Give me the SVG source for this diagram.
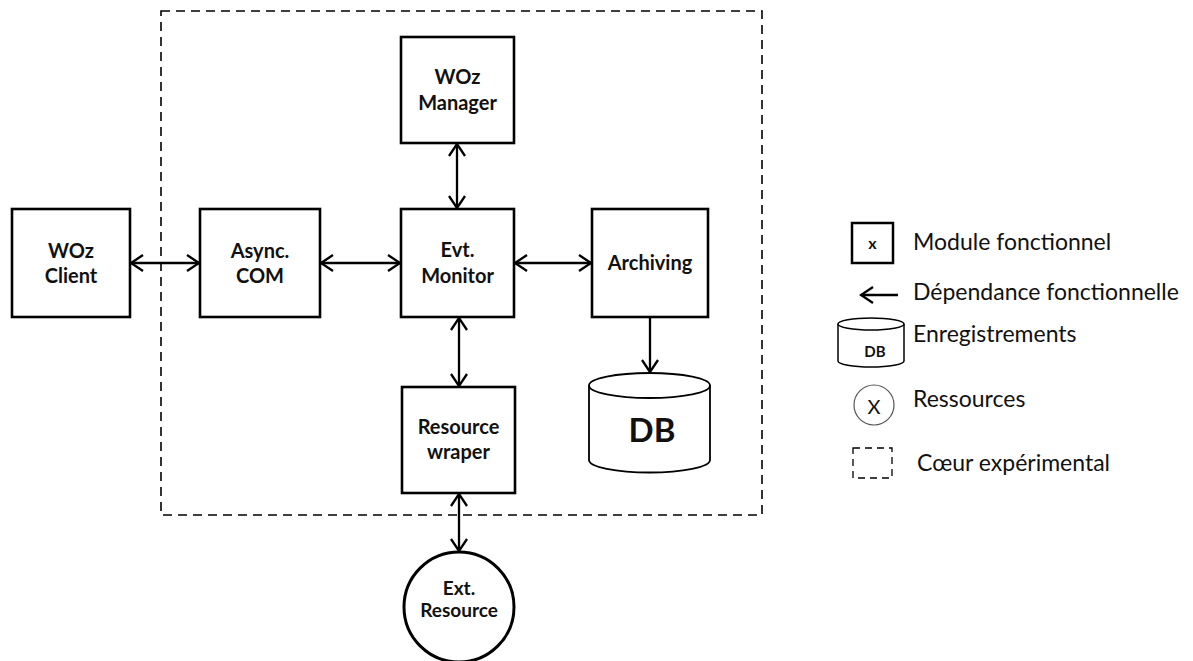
<svg xmlns="http://www.w3.org/2000/svg" width="1193" height="661" viewBox="0 0 1193 661">
<style>
.box{fill:#fff;stroke:#000;stroke-width:2.6}
.lbl{font-family:Lato,"Open Sans","Liberation Sans",sans-serif;font-weight:bold;font-size:20px;text-anchor:middle;fill:#111}
.leg{font-family:Lato,"Open Sans","Liberation Sans",sans-serif;font-size:23px;fill:#111}
.con{fill:none;stroke:#000;stroke-width:2.3}
.dash{fill:none;stroke:#000;stroke-width:1.6;stroke-dasharray:9 6}
</style>
<defs>
<marker id="ah" viewBox="-14 -10 16 20" refX="0" refY="0" markerWidth="16" markerHeight="20" markerUnits="userSpaceOnUse" orient="auto-start-reverse">
<path d="M-12,-8 L0,0 L-12,8" fill="none" stroke="#000" stroke-width="2.3" stroke-linejoin="miter"/>
</marker>
</defs>
<rect id="core" x="161" y="11" width="601" height="504" class="dash"/>
<g id="connectors">
<line x1="131" y1="263" x2="199" y2="263" class="con" marker-start="url(#ah)" marker-end="url(#ah)"/>
<line x1="321" y1="263" x2="400" y2="263" class="con" marker-start="url(#ah)" marker-end="url(#ah)"/>
<line x1="515" y1="263" x2="591" y2="263" class="con" marker-start="url(#ah)" marker-end="url(#ah)"/>
<line x1="457" y1="144" x2="457" y2="208" class="con" marker-start="url(#ah)" marker-end="url(#ah)"/>
<line x1="459" y1="318" x2="459" y2="386" class="con" marker-start="url(#ah)" marker-end="url(#ah)"/>
<line x1="459" y1="494" x2="459" y2="551" class="con" marker-start="url(#ah)" marker-end="url(#ah)"/>
<line x1="650" y1="318" x2="650" y2="372" class="con" marker-end="url(#ah)"/>
</g>
<g id="woz-manager">
<rect x="401" y="37" width="113" height="106" class="box"/>
<text class="lbl" x="457.5" y="84">WOz</text>
<text class="lbl" x="457.5" y="110">Manager</text>
</g>
<g id="woz-client">
<rect x="12" y="209" width="118" height="108" class="box"/>
<text class="lbl" x="71" y="258">WOz</text>
<text class="lbl" x="71" y="283">Client</text>
</g>
<g id="async-com">
<rect x="200" y="209" width="120" height="108" class="box"/>
<text class="lbl" x="260" y="258">Async.</text>
<text class="lbl" x="260" y="283">COM</text>
</g>
<g id="evt-monitor">
<rect x="401" y="209" width="113" height="108" class="box"/>
<text class="lbl" x="457.5" y="257">Evt.</text>
<text class="lbl" x="457.5" y="283">Monitor</text>
</g>
<g id="archiving">
<rect x="592" y="209" width="116" height="108" class="box"/>
<text class="lbl" x="650" y="270">Archiving</text>
</g>
<g id="resource-wraper">
<rect x="402" y="387" width="113" height="106" class="box"/>
<text class="lbl" x="458.5" y="434">Resource</text>
<text class="lbl" x="458.5" y="459">wraper</text>
</g>
<g id="db">
<path d="M589,385.5 L589,460 A60.5,12.5 0 0 0 710,460 L710,385.5" fill="#fff" stroke="#000" stroke-width="1.8"/>
<ellipse cx="649.5" cy="385.5" rx="60.5" ry="12.5" fill="#fff" stroke="#000" stroke-width="1.8"/>
<text class="lbl" x="652" y="442" style="font-size:33px">DB</text>
</g>
<g id="ext-resource">
<circle cx="459" cy="607" r="55" fill="#fff" stroke="#000" stroke-width="3"/>
<text class="lbl" x="459" y="595" style="font-size:19px">Ext.</text>
<text class="lbl" x="459" y="617" style="font-size:19px">Resource</text>
</g>
<g id="legend">
<g id="legend-module">
<rect x="852" y="223" width="41" height="40" fill="#fff" stroke="#000" stroke-width="2.5"/>
<text class="lbl" x="872.5" y="249" style="font-size:16px">x</text>
<text class="leg" x="913" y="250">Module fonctionnel</text>
</g>
<g id="legend-dependance">
<line x1="861" y1="295" x2="898" y2="295" class="con" marker-start="url(#ah)"/>
<text class="leg" x="913" y="300">Dépendance fonctionnelle</text>
</g>
<g id="legend-db">
<path d="M838,324 L838,361 A33,6 0 0 0 904,361 L904,324" fill="#fff" stroke="#000" stroke-width="1.5"/>
<ellipse cx="871" cy="324" rx="33" ry="6" fill="#fff" stroke="#000" stroke-width="1.5"/>
<text class="lbl" x="875" y="357" style="font-size:15px">DB</text>
<text class="leg" x="913" y="342">Enregistrements</text>
</g>
<g id="legend-resource">
<circle cx="874" cy="405" r="20" fill="#fff" stroke="#555" stroke-width="1.2"/>
<text class="leg" x="874" y="414" text-anchor="middle" style="font-size:20px">X</text>
<text class="leg" x="913" y="407">Ressources</text>
</g>
<g id="legend-core">
<rect x="853" y="448" width="39" height="30" fill="none" stroke="#000" stroke-width="1.3" stroke-dasharray="7 5"/>
<text class="leg" x="917" y="471">Cœur expérimental</text>
</g>
</g>
</svg>
